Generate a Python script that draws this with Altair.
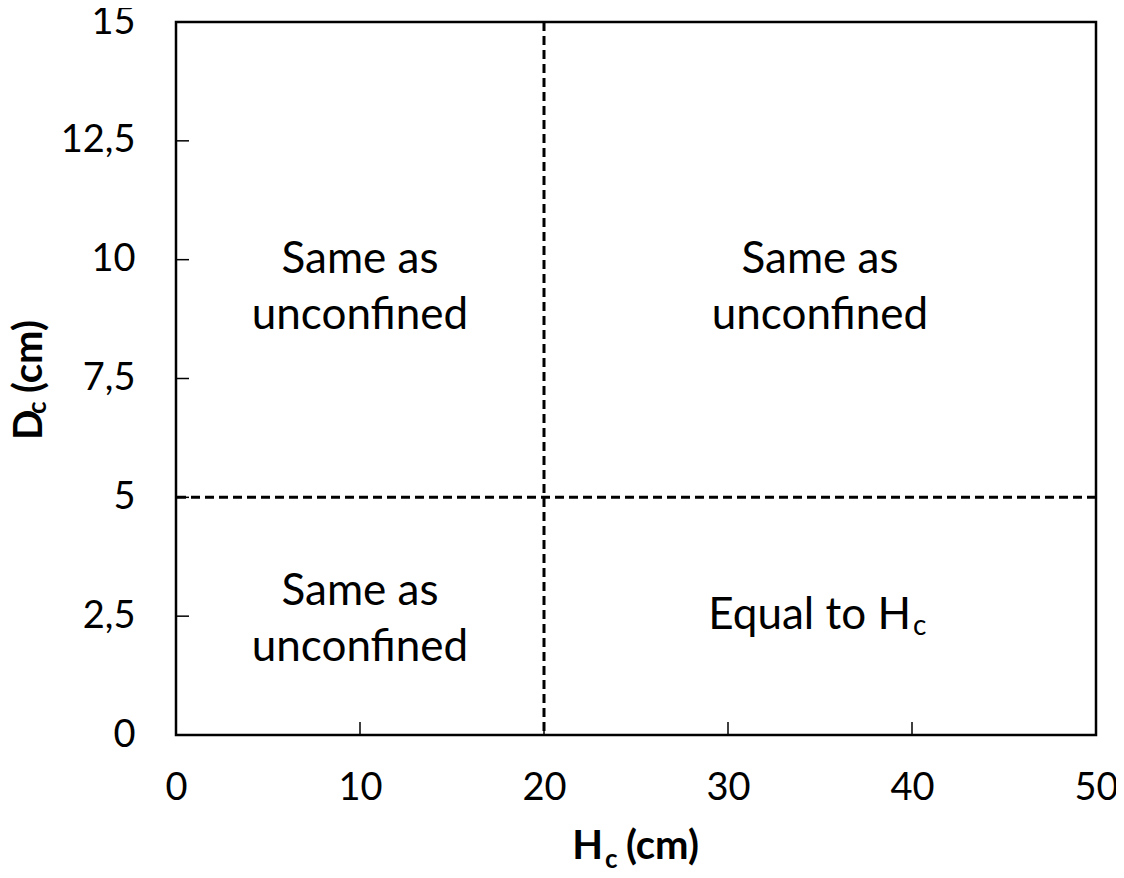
import altair as alt
import pandas as pd

# ---- data ----
h_ticks = [0, 10, 20, 30, 40, 50]
d_ticks = [0, 2.5, 5, 7.5, 10, 12.5, 15]
h_threshold = [20]
d_threshold = [5]
region_x = [10, 35, 10]
region_y = [10, 10, 3]          # position of the first text line
region_text = ["Same as\nunconfined", "Same as\nunconfined", "Same as\nunconfined"]
equal_x = [35]
equal_y = [2.5]
equal_text = ["Equal to H"]

W, H = 920, 713
FONT = "Lato"
FS = 38      # tick labels
RFS = 44     # region labels

xs = alt.Scale(domain=[0, 50], nice=False, zero=False)
ys = alt.Scale(domain=[0, 15], nice=False, zero=False)

xaxis = alt.Axis(values=h_ticks, grid=False, domain=False, ticks=False, tickSize=0,
                 labelPadding=34, labelFontSize=FS, labelFont=FONT, labelColor="black",
                 title=None, labelFlush=False, labelOverlap=False)
yaxis = alt.Axis(values=d_ticks, grid=False, domain=False, ticks=False, tickSize=0,
                 labelPadding=41, labelFontSize=FS, labelFont=FONT, labelColor="black",
                 title=None, labelOverlap=False,
                 labelExpr="replace(format(datum.value, '~g'), '.', ',')")

base_h = pd.DataFrame({"h": h_ticks})
base_d = pd.DataFrame({"d": d_ticks})

# axes (labels only)
axes = alt.Chart(pd.DataFrame({"h": [0], "d": [0]})).mark_point(opacity=0).encode(
    x=alt.X("h:Q", scale=xs, axis=xaxis),
    y=alt.Y("d:Q", scale=ys, axis=yaxis),
)

# inward ticks
xticks = alt.Chart(base_h).mark_rule(color="black", strokeWidth=1.5).encode(
    x=alt.X("h:Q", scale=xs), y=alt.value(H), y2=alt.value(H - 13))
yticks = alt.Chart(base_d).mark_rule(color="black", strokeWidth=1.5).encode(
    y=alt.Y("d:Q", scale=ys), x=alt.value(0), x2=alt.value(13))

# threshold dashed lines
vline = alt.Chart(pd.DataFrame({"h": h_threshold})).mark_rule(
    color="black", strokeWidth=3, strokeDash=[9, 5]).encode(x=alt.X("h:Q", scale=xs))
hline = alt.Chart(pd.DataFrame({"d": d_threshold})).mark_rule(
    color="black", strokeWidth=3, strokeDash=[9, 5]).encode(y=alt.Y("d:Q", scale=ys))

# region labels
regions = alt.Chart(pd.DataFrame({"x": region_x, "y": region_y, "t": region_text})).mark_text(
    font=FONT, fontSize=RFS, lineBreak="\n", lineHeight=56, align="center",
    baseline="middle", color="black").encode(
    x=alt.X("x:Q", scale=xs), y=alt.Y("y:Q", scale=ys), text="t:N")

eq_df = pd.DataFrame({"x": equal_x, "y": equal_y, "t": equal_text})
equal = alt.Chart(eq_df).mark_text(
    font=FONT, fontSize=RFS, align="right", baseline="middle", dx=91, color="black").encode(
    x=alt.X("x:Q", scale=xs), y=alt.Y("y:Q", scale=ys), text="t:N")
equal_sub = alt.Chart(eq_df).mark_text(
    font=FONT, fontSize=28, align="left", baseline="middle", dx=93, dy=11, color="black").encode(
    x=alt.X("x:Q", scale=xs), y=alt.Y("y:Q", scale=ys), text=alt.value("c"))

# axis titles (with subscripts)
tdf = pd.DataFrame({"a": [0]})
xt_main = alt.Chart(tdf).mark_text(font=FONT, fontSize=40, fontWeight="bold", align="right",
                                   baseline="alphabetic", color="black").encode(
    x=alt.value(427), y=alt.value(837), text=alt.value("H"))
xt_sub = alt.Chart(tdf).mark_text(font=FONT, fontSize=26, fontWeight="bold", align="left",
                                  baseline="alphabetic", color="black").encode(
    x=alt.value(429), y=alt.value(846), text=alt.value("c"))
xt_rest = alt.Chart(tdf).mark_text(font=FONT, fontSize=40, fontWeight="bold", align="left",
                                   baseline="alphabetic", color="black").encode(
    x=alt.value(450), y=alt.value(837), text=alt.value("(cm)"))

yt_main = alt.Chart(tdf).mark_text(font=FONT, fontSize=40, fontWeight="bold", align="left",
                                   baseline="alphabetic", angle=270, color="black").encode(
    x=alt.value(42 - 176), y=alt.value(440 - 22), text=alt.value("D"))
yt_sub = alt.Chart(tdf).mark_text(font=FONT, fontSize=26, fontWeight="bold", align="left",
                                  baseline="alphabetic", angle=270, color="black").encode(
    x=alt.value(46 - 176), y=alt.value(414 - 22), text=alt.value("c"))
yt_rest = alt.Chart(tdf).mark_text(font=FONT, fontSize=40, fontWeight="bold", align="left",
                                   baseline="alphabetic", angle=270, color="black").encode(
    x=alt.value(42 - 176), y=alt.value(393 - 22), text=alt.value("(cm)"))

chart = alt.layer(
    axes, xticks, yticks, vline, hline, regions, equal, equal_sub,
    xt_main, xt_sub, xt_rest, yt_main, yt_sub, yt_rest
).properties(
    width=W, height=H,
    autosize=alt.AutoSizeParams(type="none"),
    padding={"left": 168, "top": 14, "right": 20, "bottom": 135},
    background="white",
).configure_view(stroke="black", strokeWidth=2.5)

chart.save("out.html", embed_options={"renderer": "svg", "actions": False})
